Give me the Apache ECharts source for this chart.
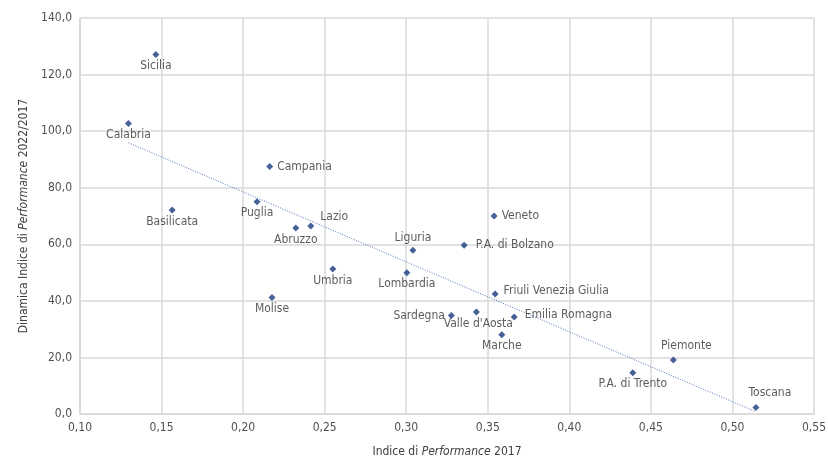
<!DOCTYPE html>
<html>
<head>
<meta charset="utf-8">
<script src="https://cdn.jsdelivr.net/npm/echarts@6/dist/echarts.min.js"></script>
<style>
  html, body { margin: 0; padding: 0; background: #fff; }
  #main { width: 828px; height: 457px; }
</style>
</head>
<body>
<div id="main"></div>
<script>
// regioni
var regions = ['Sicilia', 'Calabria', 'Campania', 'Basilicata', 'Puglia', 'Abruzzo', 'Lazio',
  'Umbria', 'Molise', 'Lombardia', 'Liguria', 'P.A. di Bolzano', 'Veneto', 'Friuli Venezia Giulia',
  'Sardegna', "Valle d'Aosta", 'Emilia Romagna', 'Marche', 'Piemonte', 'P.A. di Trento', 'Toscana']
// Indice di Performance 2017
var perf2017 = [0.1465, 0.1297, 0.2163, 0.1565, 0.2085, 0.2323, 0.2415,
  0.2550, 0.2177, 0.3004, 0.3041, 0.3355, 0.3539, 0.3545,
  0.3277, 0.3430, 0.3662, 0.3586, 0.4638, 0.4389, 0.5144]
// Dinamica 2022/2017
var dinamica = [127.1, 102.7, 87.5, 72.1, 75.0, 65.8, 66.5,
  51.3, 41.2, 49.9, 57.9, 59.7, 70.0, 42.4,
  34.8, 36.1, 34.3, 28.0, 19.1, 14.6, 2.3]
var xTicks = [0.10, 0.15, 0.20, 0.25, 0.30, 0.35, 0.40, 0.45, 0.50, 0.55]
var yTicks = [0, 20, 40, 60, 80, 100, 120, 140]

var font = '"Liberation Sans Narrow", "DejaVu Sans Condensed", "Roboto", sans-serif'

// label placement (style only)
var labelPlace = {
  'Campania': { position: 'right', distance: 4 },
  'Lazio': { position: 'right', distance: 6, offset: [0, -9] },
  'Liguria': { position: 'top', distance: 3 },
  'P.A. di Bolzano': { position: 'right', distance: 8 },
  'Veneto': { position: 'right', distance: 4 },
  'Friuli Venezia Giulia': { position: 'right', distance: 5, offset: [0, -3] },
  'Sardegna': { position: 'left', distance: 3 },
  'Emilia Romagna': { position: 'right', distance: 7, offset: [0, -2] },
  'Piemonte': { position: 'top', distance: 5, offset: [13, 0] },
  'Toscana': { position: 'top', distance: 5, offset: [14, 0] },
  "Valle d'Aosta": { position: 'bottom', distance: 2, offset: [2, 0] }
}

var points = regions.map(function (r, i) {
  var p = labelPlace[r] || { position: 'bottom', distance: 2 }
  return {
    name: r,
    value: [perf2017[i], dinamica[i]],
    label: { show: true, formatter: r, position: p.position, distance: p.distance, offset: p.offset || [0, 0] }
  }
})

// retta di regressione lineare
var n = perf2017.length
var mx = perf2017.reduce(function (a, b) { return a + b }, 0) / n
var my = dinamica.reduce(function (a, b) { return a + b }, 0) / n
var sxy = 0, sxx = 0
for (var i = 0; i < n; i++) {
  sxy += (perf2017[i] - mx) * (dinamica[i] - my)
  sxx += (perf2017[i] - mx) * (perf2017[i] - mx)
}
var slope = sxy / sxx
var icpt = my - slope * mx
var xMin = Math.min.apply(null, perf2017)
var xMax = Math.max.apply(null, perf2017)
var trend = [[xMin, icpt + slope * xMin], [xMax, icpt + slope * xMax]]

var fmt2 = function (v) { return v.toFixed(2).replace('.', ',') }
var fmt1 = function (v) { return v.toFixed(1).replace('.', ',') }

var chart = echarts.init(document.getElementById('main'), null, { renderer: 'canvas' })
chart.setOption({
  animation: false,
  textStyle: { fontFamily: font },
  grid: { left: 80, right: 14, top: 18, bottom: 43, containLabel: false, outerBoundsMode: 'none' },
  xAxis: {
    type: 'value',
    min: xTicks[0],
    max: xTicks[xTicks.length - 1],
    interval: 0.05,
    name: 'Indice di {i|Performance} 2017',
    nameLocation: 'middle',
    nameGap: 32,
    nameTextStyle: {
      color: '#404040', fontSize: 12, fontFamily: font,
      rich: { i: { fontStyle: 'italic', color: '#404040', fontSize: 12, fontFamily: font } }
    },
    axisLine: { show: true, lineStyle: { color: '#d9d9d9', width: 1.5 } },
    axisTick: { show: false },
    axisLabel: { color: '#505050', fontSize: 12, margin: 8, formatter: fmt2 },
    splitLine: { show: true, lineStyle: { color: '#d9d9d9', width: 1.5 } }
  },
  yAxis: {
    type: 'value',
    min: yTicks[0],
    max: yTicks[yTicks.length - 1],
    interval: 20,
    name: 'Dinamica Indice di {i|Performance} 2022/2017',
    nameLocation: 'middle',
    nameRotate: 90,
    nameGap: 47,
    nameTextStyle: {
      color: '#404040', fontSize: 12, fontFamily: font,
      rich: { i: { fontStyle: 'italic', color: '#404040', fontSize: 12, fontFamily: font } }
    },
    axisLine: { show: true, lineStyle: { color: '#d9d9d9', width: 1.5 } },
    axisTick: { show: false },
    axisLabel: { color: '#505050', fontSize: 12, margin: 8, formatter: fmt1 },
    splitLine: { show: true, lineStyle: { color: '#d9d9d9', width: 1.5 } }
  },
  series: [
    {
      type: 'line',
      data: trend,
      symbol: 'none',
      silent: true,
      lineStyle: { color: '#4f74bd', width: 1, type: [1, 1.5] },
      z: 1
    },
    {
      type: 'scatter',
      data: points,
      symbol: 'diamond',
      symbolSize: 7,
      itemStyle: { color: '#173a7e' },
      label: { color: '#333333', fontSize: 12, fontFamily: font },
      z: 3
    }
  ]
})
</script>
</body>
</html>
